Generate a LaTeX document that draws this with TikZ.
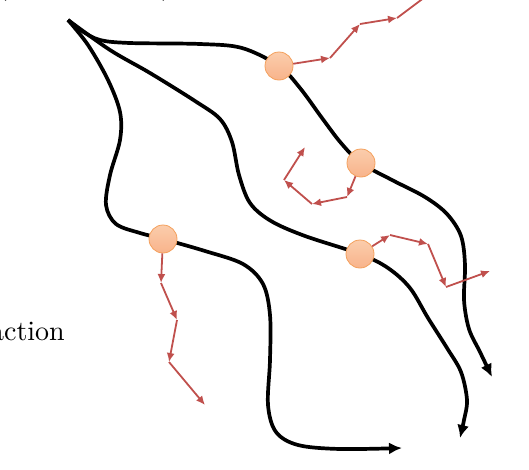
\documentclass[tikz,border=0pt]{standalone}
\usepackage{graphicx}
\usetikzlibrary{arrows.meta}
\definecolor{arr}{HTML}{C0504D}
\definecolor{ctop}{HTML}{FBCDAC}
\definecolor{cbot}{HTML}{F8B38B}
\definecolor{cedge}{HTML}{F4A05C}
\begin{document}
\begin{tikzpicture}[x=1pt,y=-1pt,
  traj/.style={line width=3.7pt},
  trajtip/.style={-{Latex[length=13pt,width=12pt]}},
  state/.style={circle, minimum size=28pt, inner sep=0pt, top color=ctop, bottom color=cbot, draw=cedge, line width=0.8pt},
  act/.style={draw=arr, line width=1.8pt, -{Latex[length=9pt,width=8pt]}, color=arr},
  lbl/.style={inner sep=0pt}
]
\useasboundingbox (0,0) rectangle (529,469);
% partially visible texts
\node[lbl, anchor=base west] (lp) at (-3,-6) {\scalebox{2.8}{(}};
\node[lbl, anchor=base west] (rp) at (161,-6) {\scalebox{2.8}{)}};
\node[lbl, anchor=base east] (txt) at (65,340) {\scalebox{2.8}{action}};
% key points
\coordinate (o) at (68,20);
\coordinate (p1) at (279,66);
\coordinate (p2) at (361,163);
\coordinate (p3) at (360,254);
\coordinate (p4) at (163,239);
\coordinate (e1) at (492,377);
\coordinate (e2) at (460,438);
\coordinate (e3) at (402,448);
% trajectories
\draw[traj, trajtip] plot[smooth, tension=0.55] coordinates {(o) (82,31) (100,40) (130,43) (200,44) (242,48) (p1) (300,88) (322,118) (341,143) (p2) (392,180) (425,197) (447,214) (461,236) (465,265) (464,300) (469,329) (480,352) (e1)};
\draw[traj, trajtip] plot[smooth, tension=0.55] coordinates {(o) (110,50) (150,73) (195,101) (220,119) (232,142) (239,175) (250,203) (271,221) (305,236) (p3) (388,268) (410,288) (428,318) (447,348) (461,372) (467,400) (464,420) (e2)};
\draw[traj, trajtip] plot[smooth, tension=0.55] coordinates {(o) (88,45) (108,80) (120,112) (120,140) (110,175) (106,205) (116,224) (140,233) (p4) (205,251) (243,264) (263,284) (270,315) (270,360) (268,405) (276,432) (298,445) (340,449) (e3)};
% states
\node[state] (s1) at (p1) {};
\node[state] (s2) at (p2) {};
\node[state] (s3) at (p3) {};
\node[state] (s4) at (p4) {};
% action chains
\coordinate (a1) at (330,58); \coordinate (a2) at (360,24); \coordinate (a3) at (397,18); \coordinate (a4) at (433,-9);
\coordinate (b1) at (347,197); \coordinate (b2) at (312,204); \coordinate (b3) at (284,180); \coordinate (b4) at (305,147);
\coordinate (c1) at (390,235); \coordinate (c2) at (428,244); \coordinate (c3) at (446,287); \coordinate (c4) at (490,271);
\coordinate (d1) at (161,283); \coordinate (d2) at (177,320); \coordinate (d3) at (169,362); \coordinate (d4) at (205,405);
\draw[act] (s1) -- (a1); \draw[act] (a1) -- (a2); \draw[act] (a2) -- (a3); \draw[act] (a3) -- (a4);
\draw[act] (s2) -- (b1); \draw[act] (b1) -- (b2); \draw[act] (b2) -- (b3); \draw[act] (b3) -- (b4);
\draw[act] (s3) -- (c1); \draw[act] (c1) -- (c2); \draw[act] (c2) -- (c3); \draw[act] (c3) -- (c4);
\draw[act] (s4) -- (d1); \draw[act] (d1) -- (d2); \draw[act] (d2) -- (d3); \draw[act] (d3) -- (d4);
\end{tikzpicture}
\end{document}
